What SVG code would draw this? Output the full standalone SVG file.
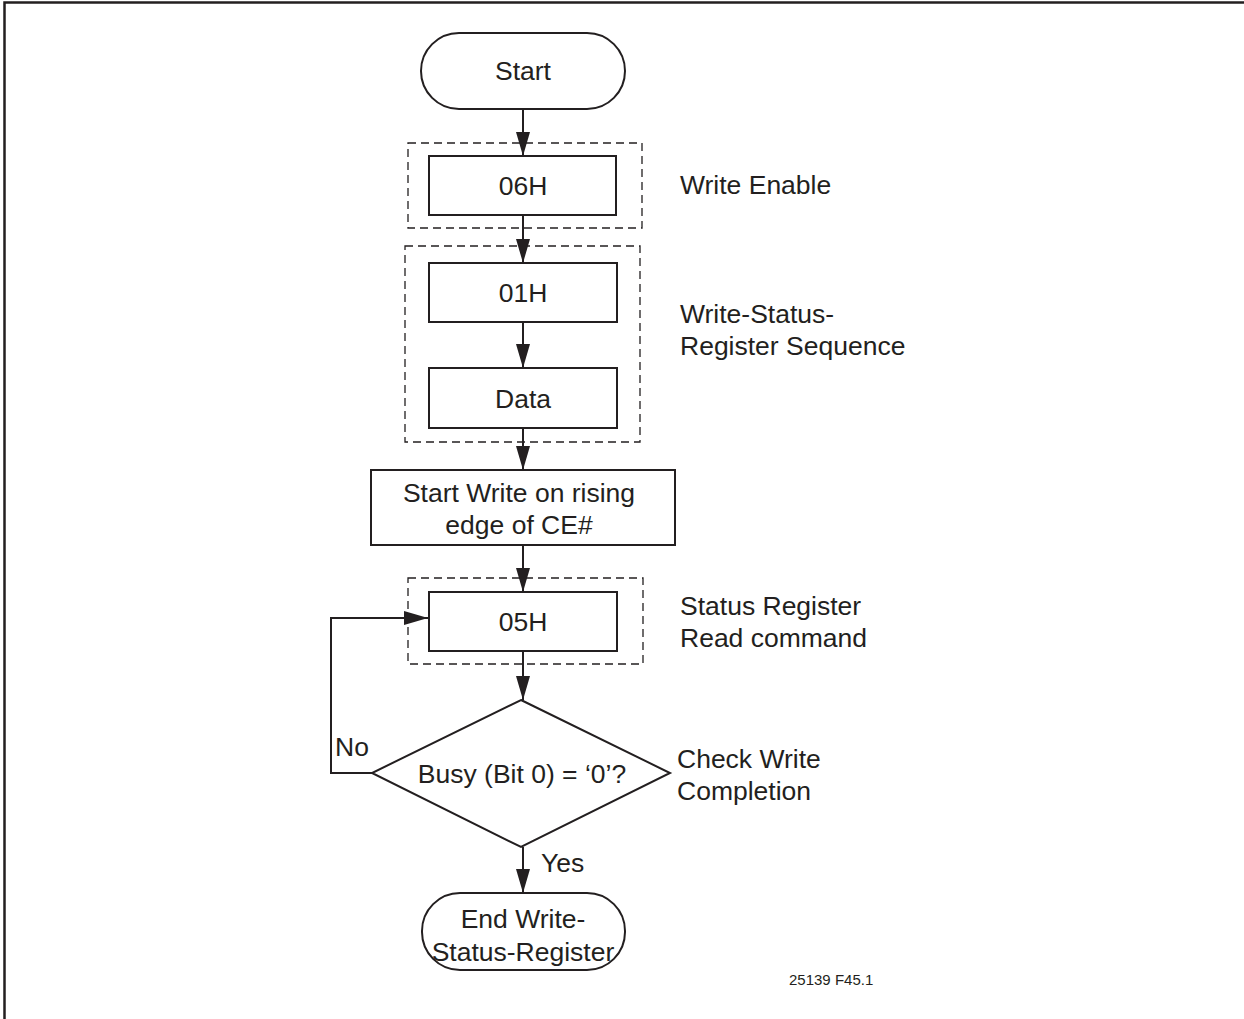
<svg xmlns="http://www.w3.org/2000/svg" width="1244" height="1019" viewBox="0 0 1244 1019">
<defs>
<style>
.box{fill:#fff;stroke:#231f20;stroke-width:2}
.grp{fill:none;stroke:#231f20;stroke-width:1.3;stroke-dasharray:8,5}
.ln{fill:none;stroke:#231f20;stroke-width:2}
text{font-family:"Liberation Sans",Arial,sans-serif;font-size:26.5px;fill:#231f20}
.c{text-anchor:middle}
</style>
<marker id="ah" markerWidth="24" markerHeight="14" refX="24" refY="7" orient="auto" markerUnits="userSpaceOnUse" viewBox="0 0 24 14">
<path d="M0,0 L24,7 L0,14 Z" fill="#231f20"/>
</marker>
</defs>
<rect width="1244" height="1019" fill="#fff"/>
<path d="M4.5,1019 V2.5 H1244" fill="none" stroke="#231f20" stroke-width="2.5"/>

<g id="groups">
<rect class="grp" x="408" y="143" width="234" height="85"/>
<rect class="grp" x="405" y="246" width="235" height="196"/>
<rect class="grp" x="408" y="578" width="235" height="86"/>
</g>

<g id="connectors">
<line class="ln" x1="523" y1="109" x2="523" y2="156" marker-end="url(#ah)"/>
<line class="ln" x1="523" y1="215" x2="523" y2="263" marker-end="url(#ah)"/>
<line class="ln" x1="523" y1="322" x2="523" y2="368" marker-end="url(#ah)"/>
<line class="ln" x1="523" y1="428" x2="523" y2="470" marker-end="url(#ah)"/>
<line class="ln" x1="523" y1="545" x2="523" y2="592" marker-end="url(#ah)"/>
<line class="ln" x1="523" y1="651" x2="523" y2="700" marker-end="url(#ah)"/>
<polyline class="ln" points="372,773 331,773 331,618 428,618" marker-end="url(#ah)"/>
<line class="ln" x1="523" y1="847" x2="523" y2="893" marker-end="url(#ah)"/>
</g>

<g id="start">
<rect class="box" x="421" y="33" width="204" height="76" rx="38" ry="38"/>
<text class="c" x="523" y="80">Start</text>
</g>
<g id="n06h">
<rect class="box" x="429" y="156" width="187" height="59"/>
<text class="c" x="523" y="195">06H</text>
</g>
<g id="n01h">
<rect class="box" x="429" y="263" width="188" height="59"/>
<text class="c" x="523" y="302">01H</text>
</g>
<g id="data">
<rect class="box" x="429" y="368" width="188" height="60"/>
<text class="c" x="523" y="408">Data</text>
</g>
<g id="startwrite">
<rect class="box" x="371" y="470" width="304" height="75"/>
<text class="c" x="519" y="502">Start Write on rising</text>
<text class="c" x="519" y="534">edge of CE#</text>
</g>
<g id="n05h">
<rect class="box" x="429" y="592" width="188" height="59"/>
<text class="c" x="523" y="631">05H</text>
</g>
<g id="decision">
<polygon class="box" points="521,700 670,773 521,847 372,773"/>
<text class="c" x="522" y="783">Busy (Bit 0) = ‘0’?</text>
</g>
<g id="end">
<rect class="box" x="422" y="893" width="203" height="77" rx="38" ry="38"/>
<text class="c" x="523" y="928">End Write-</text>
<text class="c" x="523" y="961">Status-Register</text>
</g>

<g id="labels">
<text x="680" y="194">Write Enable</text>
<text x="680" y="323">Write-Status-</text>
<text x="680" y="355">Register Sequence</text>
<text x="680" y="615">Status Register</text>
<text x="680" y="647">Read command</text>
<text x="677" y="768">Check Write</text>
<text x="677" y="800">Completion</text>
<text x="335" y="756">No</text>
<text x="541" y="872">Yes</text>
<text x="789" y="985" style="font-size:15px">25139 F45.1</text>
</g>
</svg>
